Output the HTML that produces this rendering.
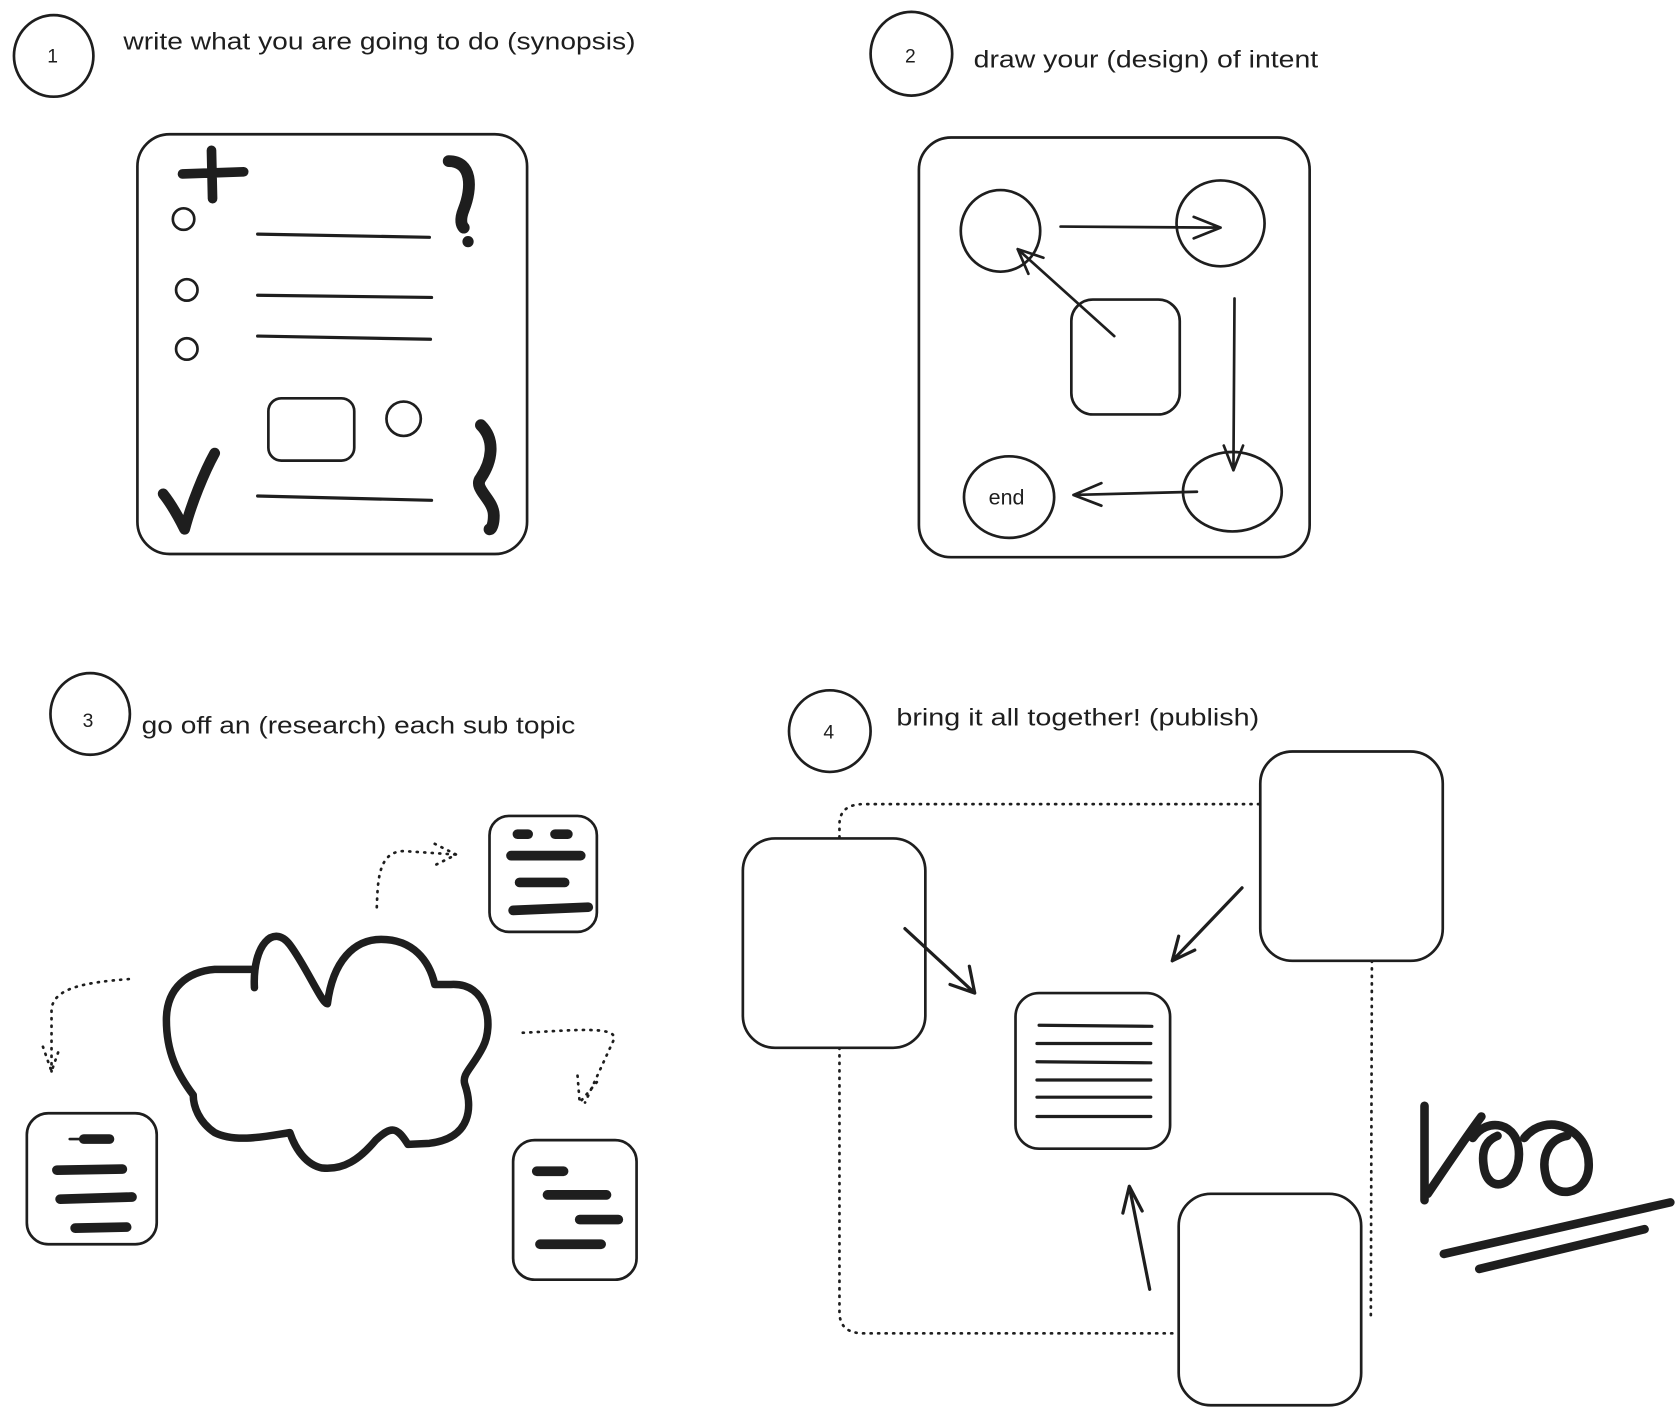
<!DOCTYPE html>
<html><head><meta charset="utf-8"><style>
html,body{margin:0;padding:0;background:#fff;}
svg{display:block}
text{font-family:"Liberation Sans",sans-serif;fill:#1e1e1e;}
</style></head><body>
<svg width="1680" height="1415" viewBox="0 0 1565 1318" xmlns="http://www.w3.org/2000/svg">
<g fill="none" stroke="#1e1e1e" stroke-width="2.5" stroke-linecap="round" stroke-linejoin="round">
<!-- section 1 -->
<ellipse cx="50" cy="52" rx="37" ry="38"/>
<rect x="128" y="125" width="363" height="391" rx="30"/>
<path d="M170,162 L227,160 M197,140 L198,185" stroke-width="9"/>
<circle cx="171" cy="204" r="10"/><circle cx="174" cy="270" r="10"/><circle cx="174" cy="325" r="10"/>
<path d="M240,218 L400,221 M240,275 L402,277 M240,313 L401,316 M240,462 L402,466" stroke-width="3"/>
<rect x="250" y="371" width="80" height="58" rx="12"/>
<circle cx="376" cy="390" r="16"/>
<path d="M418,150 C440,150 440,175 432,195 C428,205 430,210 432,212" stroke-width="11"/>
<circle cx="436" cy="225" r="4" fill="#1e1e1e"/>
<path d="M152,460 C160,470 168,485 172,493 C178,470 190,440 200,422" stroke-width="10"/>
<path d="M448,396 C462,410 458,430 448,445 C440,455 460,465 460,480 C460,488 458,493 456,493" stroke-width="11"/>
<!-- section 2 -->
<ellipse cx="849" cy="50" rx="38" ry="39"/>
<rect x="856" y="128" width="364" height="391" rx="30"/>
<ellipse cx="932" cy="215" rx="37" ry="38"/>
<ellipse cx="1137" cy="208" rx="41" ry="40"/>
<ellipse cx="940" cy="463" rx="42" ry="38"/>
<ellipse cx="1148" cy="458" rx="46" ry="37"/>
<rect x="998" y="279" width="101" height="107" rx="20"/>
<path d="M988,211 L1137,212 M1112,202 L1137,212 L1112,222"/>
<path d="M1038,313 L948,232 M972,240 L948,232 L958,255"/>
<path d="M1150,278 L1149,438 M1140,415 L1149,438 L1158,415"/>
<path d="M1115,458 L1000,461 M1026,450 L1000,461 L1026,471"/>
<!-- section 3 -->
<ellipse cx="84" cy="665" rx="37" ry="38"/>
<path d="M237,920 C235,880 255,860 270,880 C285,900 300,935 305,935 C310,895 330,875 355,875 C385,875 400,895 405,917 L420,917 C455,915 460,955 450,975 C440,995 430,1000 433,1010 C440,1030 440,1060 400,1065 L380,1066 C370,1050 365,1048 350,1062 C335,1080 320,1090 300,1088 C285,1085 275,1070 270,1055 C250,1058 220,1065 200,1055 C185,1045 180,1030 180,1020 C165,1000 155,980 155,950 C155,920 175,905 200,903 L237,903" stroke-width="7"/>
<rect x="456" y="760" width="100" height="108" rx="18"/>
<path d="M482,777 L492,777 M517,777 L529,777 M476,797 L541,797 M484,822 L526,822 M478,848 L548,845" stroke-width="9"/>
<rect x="25" y="1037" width="121" height="122" rx="20"/>
<path d="M78,1061 L102,1061 M53,1090 L114,1089 M56,1117 L123,1115 M70,1144 L118,1143" stroke-width="9"/>
<path d="M65,1061 L100,1061"/>
<rect x="478" y="1062" width="115" height="130" rx="20"/>
<path d="M500,1091 L525,1091 M510,1113 L565,1113 M540,1136 L576,1136 M503,1159 L560,1159" stroke-width="9"/>
<g stroke-dasharray="1 6" stroke-width="2.5">
<path d="M351,845 C352,820 352,790 380,793 L425,796"/>
<path d="M405,786 L425,796 L405,806"/>
<path d="M120,912 C80,915 50,920 48,940 L48,998"/>
<path d="M40,975 L48,998 L56,975"/>
<path d="M487,962 C530,960 575,955 572,968 L545,1027"/>
<path d="M538,1002 L540,1027 L556,1008"/>
</g>
<!-- section 4 -->
<ellipse cx="773" cy="681" rx="38" ry="38"/>
<rect x="692" y="781" width="170" height="195" rx="30"/>
<rect x="1174" y="700" width="170" height="195" rx="30"/>
<rect x="1098" y="1112" width="170" height="197" rx="30"/>
<rect x="946" y="925" width="144" height="145" rx="22"/>
<path d="M968,955 L1073,956 M966,972 L1072,972 M966,989 L1072,990 M966,1006 L1072,1006 M966,1022 L1072,1022 M966,1040 L1072,1040" stroke-width="3"/>
<g stroke-dasharray="1 6" stroke-width="2.5">
<path d="M782,780 L782,768 C782,755 790,749 805,749 L1174,749"/>
<path d="M782,976 L782,1222 C782,1236 790,1242 805,1242 L1098,1242"/>
<path d="M1278,895 L1277,1225"/>
</g>
<path d="M843,865 L908,925 M885,917 L908,925 L903,900" stroke-width="3"/>
<path d="M1157,827 L1092,895 M1098,872 L1092,895 L1113,885" stroke-width="3"/>
<path d="M1071,1201 L1052,1105 M1046,1130 L1052,1105 L1064,1128" stroke-width="3"/>
<!-- 100 -->
<path d="M1327,1030 L1327,1118 M1330,1112 C1345,1090 1365,1060 1380,1040" stroke-width="8"/>
<path d="M1372,1060 C1385,1040 1415,1045 1415,1075 C1415,1105 1385,1115 1382,1085 C1380,1070 1385,1062 1395,1058" stroke-width="8"/>
<path d="M1420,1060 C1440,1035 1480,1050 1480,1085 C1480,1115 1445,1118 1440,1095 C1435,1075 1445,1060 1460,1058" stroke-width="8"/>
<path d="M1345,1168 L1556,1120 M1378,1182 L1532,1145" stroke-width="8"/>
</g>
<text x="115" y="46" font-size="22" textLength="477" lengthAdjust="spacingAndGlyphs">write what you are going to do (synopsis)</text>
<text x="44" y="58" font-size="18">1</text>
<text x="907" y="63" font-size="22" textLength="321" lengthAdjust="spacingAndGlyphs">draw your (design) of intent</text>
<text x="843" y="58" font-size="18">2</text>
<text x="921" y="470" font-size="20">end</text>
<text x="132" y="683" font-size="22" textLength="404" lengthAdjust="spacingAndGlyphs">go off an (research) each sub topic</text>
<text x="77" y="677" font-size="18">3</text>
<text x="835" y="676" font-size="22" textLength="338" lengthAdjust="spacingAndGlyphs">bring it all together! (publish)</text>
<text x="767" y="688" font-size="18">4</text>
</svg>
</body></html>
